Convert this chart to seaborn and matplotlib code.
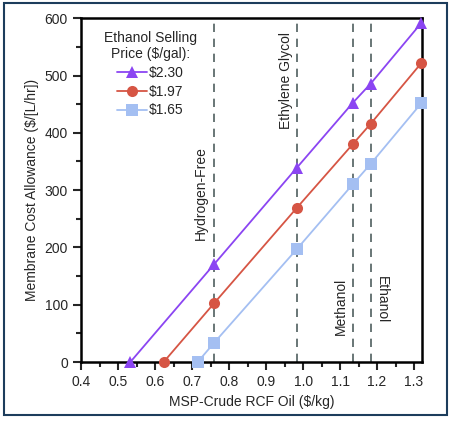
import numpy as np
import pandas as pd
import matplotlib
matplotlib.use('Agg')
import matplotlib.pyplot as plt
from matplotlib.ticker import MultipleLocator
import matplotlib.patches as mpatches
import seaborn as sns

# data
x_230 = [0.533, 0.76, 0.983, 1.134, 1.183, 1.32]
y_230 = [0, 171, 339, 452, 486, 592]
x_197 = [0.623, 0.76, 0.983, 1.134, 1.183, 1.32]
y_197 = [0, 103, 269, 380, 416, 522]
x_165 = [0.715, 0.76, 0.983, 1.134, 1.183, 1.32]
y_165 = [0, 34, 197, 310, 346, 452]
prices = ['$2.30', '$1.97', '$1.65']
colors = ['#8b45f2', '#d65544', '#a4bff2']
markers = ['^', 'o', 's']

vlines_x = [0.76, 0.983, 1.134, 1.183]
vline_labels = ['Hydrogen-Free', 'Ethylene Glycol', 'Methanol', 'Ethanol']

df = pd.concat([
    pd.DataFrame({'x': xs, 'y': ys, 'price': p})
    for xs, ys, p in [(x_230, y_230, prices[0]), (x_197, y_197, prices[1]), (x_165, y_165, prices[2])]
])

sns.set_style('ticks')
plt.rcParams['font.family'] = ['Liberation Sans', 'DejaVu Sans']
plt.rcParams['font.size'] = 10

fig = plt.figure(figsize=(4.53, 4.23), dpi=100)
ax = fig.add_axes([0.179, 0.144, 0.753, 0.813])

for xv in vlines_x:
    ax.axvline(xv, color='#4f5f5f', linestyle=(0, (5, 4)), linewidth=1.2, zorder=1)

sns.lineplot(data=df, x='x', y='y', hue='price', style='price',
             hue_order=prices, style_order=prices,
             palette=dict(zip(prices, colors)), markers=dict(zip(prices, markers)),
             dashes=False, markersize=8, markeredgewidth=0, linewidth=1.3,
             ax=ax, zorder=3, clip_on=False)

ax.text(0.742, 213, vline_labels[0], rotation=90, ha='right', va='bottom', fontsize=10)
ax.text(0.974, 576, vline_labels[1], rotation=90, ha='right', va='top', fontsize=10)
ax.text(1.121, 47, vline_labels[2], rotation=90, ha='right', va='bottom', fontsize=10)
ax.text(1.194, 150, vline_labels[3], rotation=-90, ha='left', va='top', fontsize=10)

ax.set_xlim(0.4, 1.322)
ax.set_ylim(0, 600)
ax.xaxis.set_minor_locator(MultipleLocator(0.05))
ax.yaxis.set_major_locator(MultipleLocator(100))
ax.yaxis.set_minor_locator(MultipleLocator(50))
ax.set_xticks(np.arange(0.4, 1.31, 0.1))
ax.set_xticklabels([f'{v:.1f}' for v in np.arange(0.4, 1.31, 0.1)])
ax.tick_params(which='major', direction='out', length=6, width=1.5, labelsize=10)
ax.tick_params(which='minor', direction='out', length=3.5, width=1.5)
for s in ax.spines.values():
    s.set_linewidth(1.8)
    s.set_color('black')

ax.set_xlabel('MSP-Crude RCF Oil ($/kg)', fontsize=10)
ax.set_ylabel('Membrane Cost Allowance ($/[L/hr])', fontsize=10)

leg = ax.legend(title='Ethanol Selling\nPrice ($/gal):', loc='upper left',
                frameon=False, fontsize=10, title_fontsize=10, alignment='center',
                handlelength=2.2, handletextpad=0.1, labelspacing=0.35,
                bbox_to_anchor=(0.03, 1.0))
leg.get_title().set_multialignment('center')

# outer frame as in the reference screenshot
fig.patches.append(mpatches.Rectangle((0.009, 0.018), 0.978, 0.975, transform=fig.transFigure,
                                      fill=False, edgecolor='#1d3d5c', linewidth=1.5))

fig.savefig('out.png', dpi=100)
